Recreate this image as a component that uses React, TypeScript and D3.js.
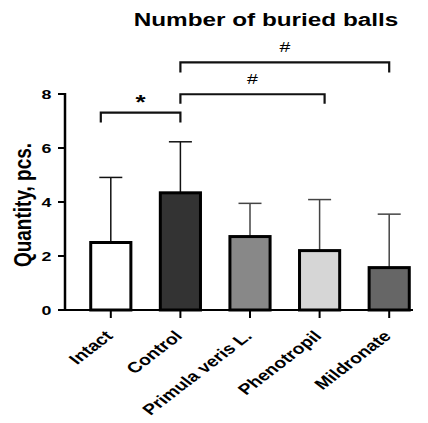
import React from "react";
import * as d3 from "d3";

const categories = ["Intact", "Control", "Primula veris L.", "Phenotropil", "Mildronate"];
const means = [2.5, 4.34, 2.72, 2.2, 1.57];
const errors = [2.41, 1.89, 1.23, 1.89, 1.98];
const fills = ["#ffffff", "#333333", "#888888", "#d6d6d6", "#666666"];
const errColors = ["#111111", "#111111", "#444444", "#444444", "#444444"];
const yTicks = [0, 2, 4, 6, 8];

// significance brackets: from/to category, top y, leg bottom y (data units)
const brackets = [
  { from: "Intact", to: "Control", top: 7.31, leg: 6.94, label: "*", dx0: -10, dx1: 0 },
  { from: "Control", to: "Phenotropil", top: 7.99, leg: 7.64, label: "#", dx0: 0, dx1: 5 },
  { from: "Control", to: "Mildronate", top: 9.17, leg: 8.8, label: "#", dx0: 0, dx1: 0 },
];

const W = 428;
const H = 423;
const font = "'Liberation Sans', Arial, sans-serif";
// the original figure is stretched sideways, text included
const sx = 1.3;

const App = () => {
  const x = d3.scaleBand().domain(categories).range([76, 424]).paddingInner(0.38).paddingOuter(0.19);
  const y = d3.scaleLinear().domain([0, 8]).range([310, 94]);
  const cx = (c: string) => (x(c) as number) + x.bandwidth() / 2;
  const bw = x.bandwidth();

  return (
    <svg width={W} height={H} style={{ position: "absolute", left: 0, top: 0, background: "#fff" }}>
      <text
        transform={`translate(266,25.5) scale(${sx},1)`}
        textAnchor="middle"
        fontFamily={font}
        fontWeight="bold"
        fontSize={18.7}
      >
        Number of buried balls
      </text>

      {/* bars */}
      {categories.map((c, i) => (
        <g key={c}>
          <line x1={cx(c)} x2={cx(c)} y1={y(means[i])} y2={y(means[i] + errors[i])} stroke={errColors[i]} strokeWidth={1.5} />
          <line x1={cx(c) - 11.5} x2={cx(c) + 11.5} y1={y(means[i] + errors[i])} y2={y(means[i] + errors[i])} stroke={errColors[i]} strokeWidth={1.5} />
          <rect
            x={x(c)! + 1.5}
            y={y(means[i])}
            width={bw - 3}
            height={y(0) - y(means[i])}
            fill={fills[i]}
            stroke="#000"
            strokeWidth={3}
          />
        </g>
      ))}

      {/* y axis */}
      <line x1={65} x2={65} y1={y(8) - 1} y2={y(0)} stroke="#000" strokeWidth={2.5} />
      {yTicks.map((t) => (
        <g key={t}>
          <line x1={58} x2={65} y1={y(t)} y2={y(t)} stroke="#000" strokeWidth={2} />
          <text
            transform={`translate(51.5,${y(t)}) scale(${sx},1)`}
            dy="0.36em"
            textAnchor="end"
            fontFamily={font}
            fontWeight="bold"
            fontSize={13.7}
          >
            {t}
          </text>
        </g>
      ))}
      <text
        transform={`translate(31,205) scale(${sx},1) rotate(-90)`}
        textAnchor="middle"
        fontFamily={font}
        fontWeight="bold"
        fontSize={19}
      >
        Quantity, pcs.
      </text>

      {/* x axis */}
      <line x1={64} x2={413} y1={y(0)} y2={y(0)} stroke="#000" strokeWidth={2} />
      {categories.map((c) => (
        <g key={c}>
          <line x1={cx(c)} x2={cx(c)} y1={y(0)} y2={y(0) + 8} stroke="#000" strokeWidth={2} />
          <text
            transform={`translate(${cx(c) + 3},${y(0) + 27}) scale(${sx},1) rotate(-45)`}
            textAnchor="end"
            fontFamily={font}
            fontWeight="bold"
            fontSize={15}
          >
            {c}
          </text>
        </g>
      ))}

      {/* brackets */}
      {brackets.map((b, i) => {
        const x0 = cx(b.from) + b.dx0;
        const x1 = cx(b.to) + b.dx1;
        const star = b.label === "*";
        return (
          <g key={i}>
            <path
              d={`M${x0},${y(b.leg)}V${y(b.top)}H${x1}V${y(b.leg)}`}
              fill="none"
              stroke="#111"
              strokeWidth={2.2}
            />
            <text
              transform={`translate(${(x0 + x1) / 2},${y(b.top) - (star ? 4 : 10)}) scale(${sx},1)`}
              textAnchor="middle"
              fontFamily={font}
              fontWeight={star ? "bold" : "normal"}
              fontSize={star ? 20 : 15}
            >
              {b.label}
            </text>
          </g>
        );
      })}
    </svg>
  );
};

export default App;
